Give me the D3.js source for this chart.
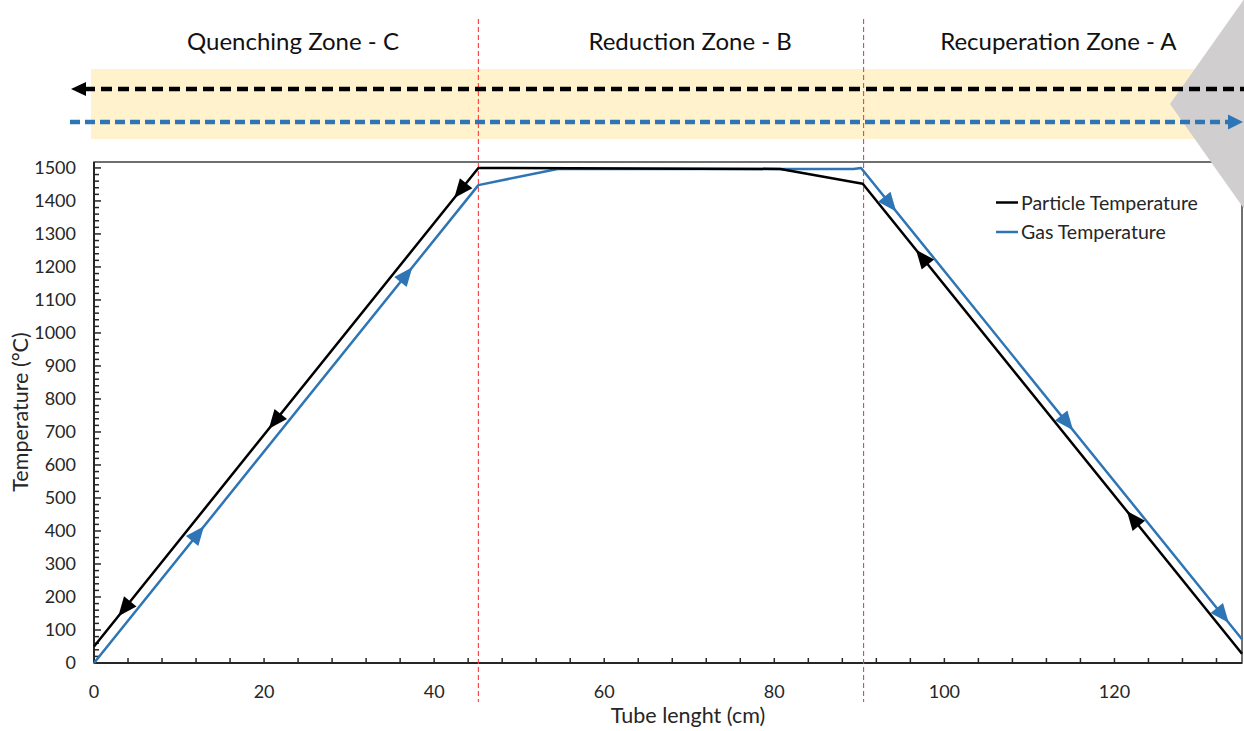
<!DOCTYPE html>
<html>
<head>
<meta charset="utf-8">
<script src="https://cdn.jsdelivr.net/npm/d3@7"></script>
<style>
  html, body { margin: 0; padding: 0; background: #fff; }
  svg { display: block; font-family: Lato, "Open Sans", sans-serif; }
</style>
</head>
<body>
<svg id="chart" width="1244" height="731"></svg>
<script>
// ---- data ----
const particleLength = [0, 45.2, 80.7, 90.4, 135];
const particleTemp   = [50, 1500, 1497, 1452, 28];
const gasLength      = [0, 45.2, 54.5, 89.3, 90.2, 135];
const gasTemp        = [0, 1448, 1497, 1497, 1500, 72];
// positions (tube length, cm) of the flow-direction arrowheads on each curve
const particleArrowAt = [3.6, 21.3, 43.1, 97.4, 122.2];
const gasArrowAt      = [12.2, 36.7, 93.6, 114.4, 132.7];
// zone boundaries (cm) and names
const zoneBounds = [45.2, 90.5];
const zoneNames  = ["Quenching Zone - C", "Reduction Zone - B", "Recuperation Zone - A"];
const seriesNames = ["Particle Temperature", "Gas Temperature"];
const xTickLabels = [0, 20, 40, 60, 80, 100, 120];
const yTickLabels = [0, 100, 200, 300, 400, 500, 600, 700, 800, 900, 1000, 1100, 1200, 1300, 1400, 1500];

// ---- layout ----
const svg = d3.select("#chart");
const plot = { left: 94, right: 1242, top: 162, bottom: 663 };
const x = d3.scaleLinear().domain([0, 135]).range([plot.left, plot.right]);
const y = d3.scaleLinear().domain([0, 1518]).range([plot.bottom, plot.top]);
const BLACK = "#000000", BLUE = "#2e75b6", TEXT = "#262626";
const zoneLabelAt = [23.4, 70.1, 113.4];

// ---- header band with flow arrows ----
svg.append("rect").attr("x", 91).attr("y", 69).attr("width", 1160).attr("height", 70)
  .attr("fill", "#fff2cc");

// zone labels
svg.selectAll("text.zone").data(zoneNames).join("text")
  .attr("class", "zone")
  .attr("x", (d, i) => x(zoneLabelAt[i]))
  .attr("y", 50)
  .attr("text-anchor", "middle")
  .attr("font-size", 24)
  .attr("fill", "#111")
  .text(d => d);

// ---- plot frame ----
svg.append("rect")
  .attr("x", plot.left).attr("y", plot.top)
  .attr("width", plot.right - plot.left).attr("height", plot.bottom - plot.top)
  .attr("fill", "none").attr("stroke", "#404040").attr("stroke-width", 1.5);

// minor / major ticks on y axis (pointing inside)
const yMinor = d3.range(0, 1501, 20);
svg.append("g").selectAll("line").data(yMinor).join("line")
  .attr("x1", plot.left).attr("x2", d => plot.left + (d % 100 === 0 ? 7 : 5))
  .attr("y1", d => y(d)).attr("y2", d => y(d))
  .attr("stroke", "#262626").attr("stroke-width", 1.5);

// x ticks every 4 cm (pointing inside)
const xTicks = d3.range(0, 133, 4);
svg.append("g").selectAll("line").data(xTicks).join("line")
  .attr("x1", d => x(d)).attr("x2", d => x(d))
  .attr("y1", plot.bottom).attr("y2", plot.bottom - 5)
  .attr("stroke", "#262626").attr("stroke-width", 1.5);

// axis lines
svg.append("line").attr("x1", plot.left).attr("x2", plot.left)
  .attr("y1", plot.top).attr("y2", plot.bottom)
  .attr("stroke", "#262626").attr("stroke-width", 2);
svg.append("line").attr("x1", plot.left).attr("x2", plot.right)
  .attr("y1", plot.bottom).attr("y2", plot.bottom)
  .attr("stroke", "#262626").attr("stroke-width", 2.2);

// tick labels
svg.append("g").selectAll("text").data(yTickLabels).join("text")
  .attr("x", 76).attr("y", d => y(d))
  .attr("dy", "0.36em")
  .attr("text-anchor", "end")
  .attr("font-size", 18).attr("fill", TEXT)
  .text(d => d);
svg.append("g").selectAll("text").data(xTickLabels).join("text")
  .attr("x", d => x(d)).attr("y", 698)
  .attr("text-anchor", "middle")
  .attr("font-size", 18).attr("fill", TEXT)
  .text(d => d);

// axis titles
svg.append("text").attr("x", 688).attr("y", 723)
  .attr("text-anchor", "middle").attr("font-size", 21.5).attr("fill", TEXT)
  .text("Tube lenght (cm)");
svg.append("text")
  .attr("transform", "translate(28,412) rotate(-90)")
  .attr("text-anchor", "middle").attr("font-size", 21.5).attr("fill", TEXT)
  .text("Temperature (°C)");

// ---- zone boundaries ----
svg.append("g").selectAll("line").data(zoneBounds).join("line")
  .attr("x1", d => x(d)).attr("x2", d => x(d))
  .attr("y1", 19).attr("y2", 702)
  .attr("stroke", "#ff3b3b").attr("stroke-width", 1.1)
  .attr("stroke-dasharray", "5,3");

// ---- temperature curves ----
const line = d3.line().x(d => x(d[0])).y(d => y(d[1]));
const particle = particleLength.map((v, i) => [v, particleTemp[i]]);
const gas = gasLength.map((v, i) => [v, gasTemp[i]]);

svg.append("path").datum(gas).attr("d", line)
  .attr("fill", "none").attr("stroke", BLUE).attr("stroke-width", 2.5)
  .attr("stroke-linejoin", "round");
svg.append("path").datum(particle).attr("d", line)
  .attr("fill", "none").attr("stroke", BLACK).attr("stroke-width", 2.5)
  .attr("stroke-linejoin", "round");

// arrowheads along a curve, pointing along the flow direction
function pointOn(pts, at) {
  let i = 0;
  while (i < pts.length - 2 && at > pts[i + 1][0]) i++;
  const a = pts[i], b = pts[i + 1];
  const t = (at - a[0]) / (b[0] - a[0]);
  const px = x(at), py = y(a[1] + t * (b[1] - a[1]));
  const ang = Math.atan2(y(b[1]) - y(a[1]), x(b[0]) - x(a[0])) * 180 / Math.PI;
  return { px, py, ang };
}
const headPath = "M10,0 L-9,-8 L-9,8 Z";
function drawHeads(pts, positions, color, reverse) {
  svg.append("g").selectAll("path").data(positions).join("path")
    .attr("d", headPath)
    .attr("fill", color)
    .attr("transform", d => {
      const p = pointOn(pts, d);
      return `translate(${p.px},${p.py}) rotate(${p.ang + (reverse ? 180 : 0)})`;
    });
}
drawHeads(particle, particleArrowAt, BLACK, true);
drawHeads(gas, gasArrowAt, BLUE, false);

// ---- legend ----
const legend = svg.append("g");
[BLACK, BLUE].forEach((c, i) => {
  const ly = 202.5 + i * 29.5;
  legend.append("line").attr("x1", 996).attr("x2", 1018)
    .attr("y1", ly).attr("y2", ly).attr("stroke", c).attr("stroke-width", 2.5);
  legend.append("text").attr("x", 1021).attr("y", ly).attr("dy", "0.36em")
    .attr("font-size", 19.5).attr("fill", TEXT).text(seriesNames[i]);
});

// ---- gray inlet wedge on the right ----
svg.append("path")
  .attr("d", d3.line()([[1170, 104], [1252, -12], [1252, 220]]) + "Z")
  .attr("fill", "#d0cece");

// ---- flow direction arrows in the header ----
// particles (black) travel right to left
svg.append("line").attr("x1", 84).attr("x2", 1250).attr("y1", 89).attr("y2", 89)
  .attr("stroke", BLACK).attr("stroke-width", 4.5).attr("stroke-dasharray", "11,6");
svg.append("path").attr("d", "M71,89 L86,82 L86,96 Z").attr("fill", BLACK);
// gas (blue) travels left to right
svg.append("line").attr("x1", 70).attr("x2", 1229).attr("y1", 122).attr("y2", 122)
  .attr("stroke", BLUE).attr("stroke-width", 4.5).attr("stroke-dasharray", "10,5");
svg.append("path").attr("d", "M1243,122 L1228,114.5 L1228,129.5 Z").attr("fill", BLUE);
</script>
</body>
</html>
